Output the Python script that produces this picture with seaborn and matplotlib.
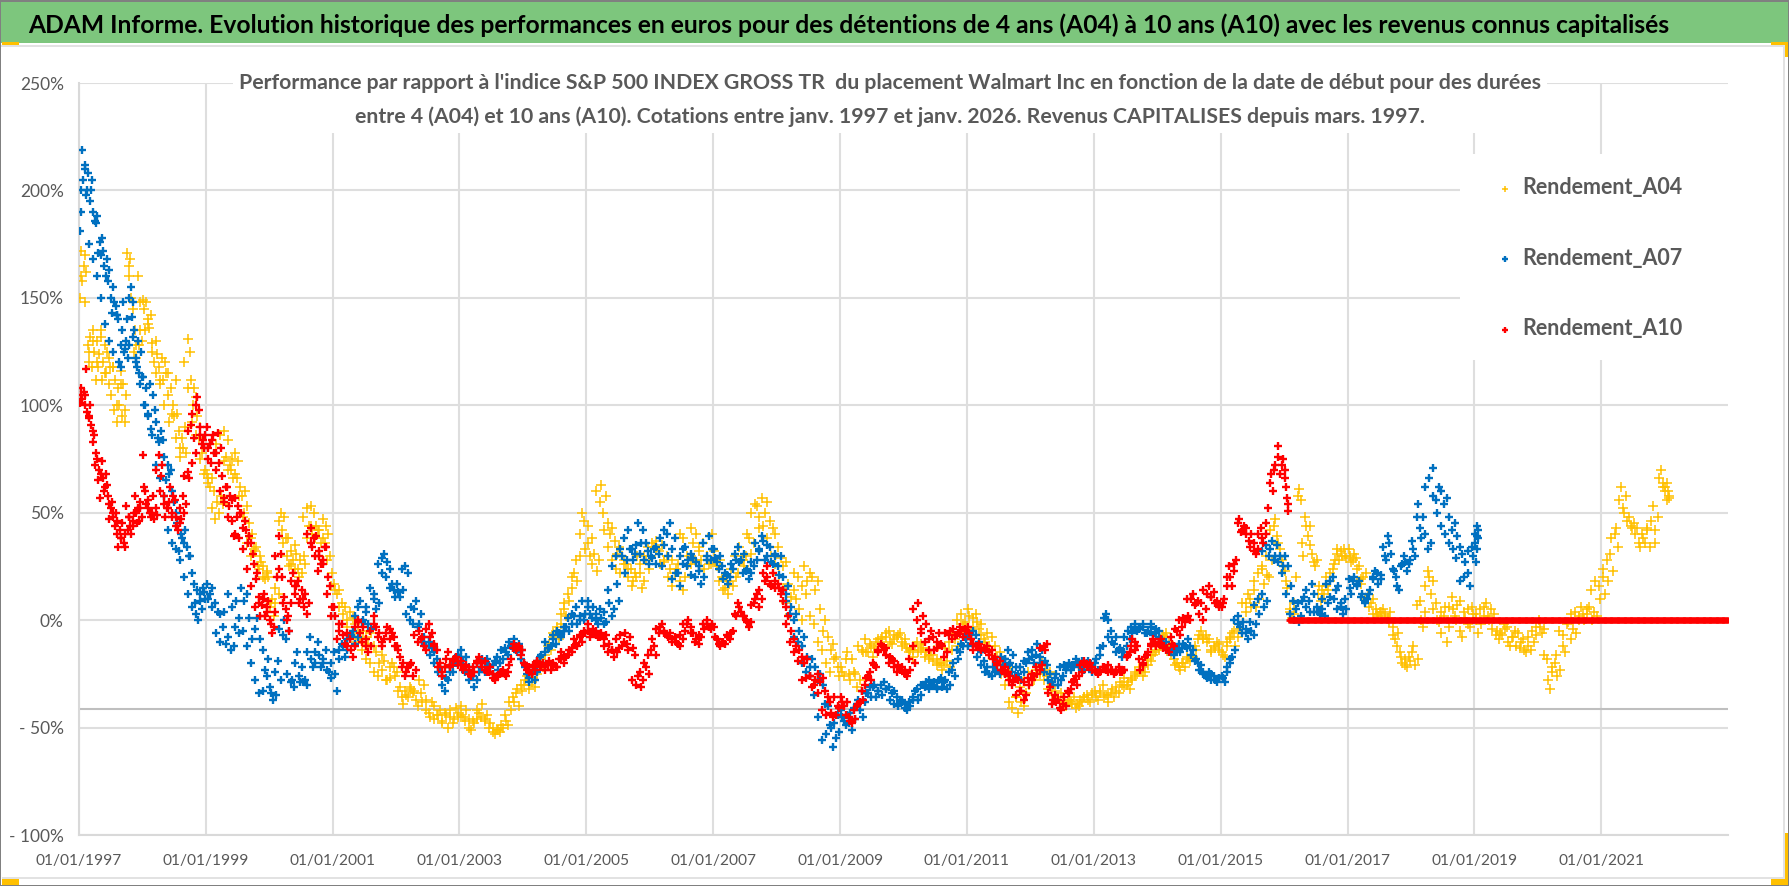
import numpy as np
import pandas as pd
import seaborn as sns
import matplotlib.pyplot as plt
import matplotlib.dates as mdates
from matplotlib.patches import Rectangle

# values in %, one list per calendar year in time order
a04_rows = [
    [150,172,158,165,148,162,128,120,132,118,135,125,112,130,118,124,132,112,120,128,115,125,110,118,
     105,118,98,112,92,108,100,116,95,110,92,105,171,160,168,150,148,125,135,122,160,128,148,130],
    [149,135,148,140,136,142,129,120,130,124,118,110,122,112,120,115,115,92,108,100,95,112,96,
     88,76,85,80,90,78,131,125,112,100,108,104,95,85,90,78,82,70],
    [68,64,62,66,60,47,55,50,58,54,88,76,84,72,70,66,78,66,74,62,58,50,60,53,45,38,40,33,34,25,30,27,25,19,22,20],
    [6,10,2,8,20,12,50,42,48,38,38,25,32,28,35,31,24,28,22,30,26,38,44,53,40,50,44,42,30,36,47,36,44,40,30,22],
    [17,12,14,8,6,0,4,1,-2,-6,-9,-5,-8,-11,-6,-12,-15,-20,-16,-19,-28,-22,-20,-26],
    [-24,-31,-39,-33,-36,-32,-34,-37,-28,-34,-30,-37,-43,-38,-40,-44,-42,-47,-43,-50,-45,-48,-41,-45],
    [-40,-45,-42,-46,-51,-48,-46,-43,-39,-46,-44,-48,-50,-53,-51,-52,-50,-47,-49,-42,-38,-34,-40,-33],
    [-30,-26,-32,-29,-31,-25,-20,-22,-16,-12,-14,-8,-5,-9,-2,5,2,9,15,22,18,30,50,33],
    [44,30,38,31,23,28,63,50,58,45,40,43,37,31,34,30,26,26,20,24,18,22,30,22,15,18,28,24],
    [30,34,37,32,35,28,30,24,28,22,26,18,14,20,26,43,36,40,32,28,24,30,26,40],
    [32,25,28,20,15,12,18,16,20,22,28,25,30,38,31,36,53,43,57,50,55,46,43,40],
    [34,29,25,27,17,11,14,10,5,0,25,18,22,20,14,18,5,-5,0,-8,-14,-11,-17,-26],
    [-22,-26,-15,-25,-18,-25,-31,-28,-15,-9,-15,-12,-17,-10,-14,-9,-12,-8,-5,-11,-7,-8,-6,-12],
    [-9,-13,-14,-17,-12,-15,-11,-13,-15,-18,-16,-14,-18,-20,-23,-21,-19,-22,-14,-9,-12,-6,-2,-4],
    [5,-5,1,3,-4,-2,-9,-6,-12,-8,-12,-17,-15,-20,-23,-26,-22,-28,-36,-43,-38,-40,-34,-30],
    [-25,-28,-22,-25,-20,-23,-26,-24,-30,-33,-36,-34,-36,-40,-37,-38,-36,-39,-40,-38,-36,-35,-38,-34],
    [-33,-37,-34,-30,-35,-38,-34,-36,-33,-34,-30,-27,-30,-32,-28,-26,-25,-23,-26,-24,-21,-19,-16,-14],
    [-14,-11,-8,-6,-10,-14,-18,-20,-23,-20,-22,-18,-19,-17,-14,-9,-5,-9,-7,-9,-15,-12,-10,-14],
    [-15,-17,-12,-8,-6,-12,-8,-4,-1,4,12,6,14,6,10,25,17,21,20,28,47,39,33,25],
    [23,15,5,1,8,20,61,56,30,48,39,44,31,25,28,16,9,12,20,14,18,24,28,33,28,30,33,29],
    [33,27,31,29,25,17,20,22,12,8,10,5,2,4,5,3,1,4,-3,-9,-6,-15,-20,-18,-22,-19],
    [-15,-21,-18,9,-3,4,23,12,18,8,-1,4,2,-10,-3,11,2,7,9,-8,1,5,-3,3],
    [3,-6,-2,2,8,0,5,3,-5,-9,-7,-4,-3,-12,-8,-5,-6,-10,-9,-15,-12,-14,-10,-7],
    [0,-6,-4,-18,-32,-22,-20,-26,-23,-12,-15,-1,-9,-4,-6,0,6,0,3,6,0,4,2,10],
    [20,12,18,31,23,43,34,62,50,58,48,43,45,43,34,40,36,43,34,53,36,48,70,62],
    [62,56,60,58],
]
# second pass over the same cloud, the readings the first pass left out
a04_more = [
    [160,170,125,130,120,135,115,122,118,100,110,98,165,145,128,135],
    [145,138,125,115,112,100,105,96,85,80,120,108,92,86,75,68],
    [66,52,82,86,74,70,75,68,58,48,36,30,32,24,20,23],
    [8,15,46,36,30,26,24,20,48,52,44,38,42,38,28,16],
    [14,6,3,-3,-7,-10,-8,-14,-18,-20,-24,-26,-23,-28,-27,-22],
    [-33,-36,-35,-31,-33,-40,-38,-42,-45,-46,-44,-48,-44,-42,-46,-43],
    [-44,-47,-50,-47,-42,-45,-47,-50,-52,-51,-49,-44,-38,-36,-32,-30],
    [-28,-30,-27,-22,-18,-15,-11,-6,-3,3,8,12,20,28,40,46],
    [36,26,60,55,42,34,28,24,22,28,24,16,20,26,30,34],
    [36,33,26,27,20,16,24,40,38,30,26,28,34,36,30,26],
    [27,18,14,18,24,30,34,28,40,50,54,48,44,38,30,26],
    [21,15,8,3,22,20,16,12,2,-2,-10,-14,-20,-24,-18,-22],
    [-24,-18,-28,-24,-12,-14,-15,-11,-13,-9,-8,-6,-10,-9,-7,-10],
    [-11,-15,-14,-10,-14,-17,-16,-19,-21,-20,-13,-10,-6,0,3,-1],
    [2,-3,-1,-7,-10,-14,-18,-20,-25,-30,-38,-41,-36,-31,-27,-24],
    [-27,-23,-24,-28,-32,-35,-37,-38,-39,-37,-39,-41,-37,-36,-37,-35],
    [-36,-33,-36,-35,-32,-31,-29,-31,-29,-27,-24,-22,-22,-18,-16,-15],
    [-10,-7,-12,-16,-21,-22,-20,-17,-16,-12,-7,-8,-10,-14,-13,-11],
    [-16,-10,-9,-5,-2,8,8,10,18,22,24,30,42,44,36,28],
    [18,4,3,58,36,44,35,27,12,14,16,22,26,31,32,30],
    [30,28,24,19,10,6,3,3,4,2,-1,-7,-12,-17,-21,-17],
    [-12,7,0,16,20,5,0,-6,6,6,5,0,-5,4,-2,6],
    [0,5,6,2,-4,-7,-6,-2,-10,-8,-12,-13,-14,-8,-5,-3],
    [-3,-16,-28,-24,-16,-5,-7,-2,3,4,2,3,5,14,18,16],
    [24,28,38,40,56,52,46,44,40,36,38,42,46,42,66,64],
    [60,64,57],
]
a04_last_year_share = 0.08

a07_rows = [
    [181,190,219,205,212,198,200,208,195,200,205,190,186,185,188,171,176,170,178,172,165,160,168,158,163,150,143,
     155,148,146,142,140,120,128,135,148,125,130,140,122,128,155,141,148,135,120,118,130,115,125,113],
    [113,100,108,95,110,89,105,98,92,85,83,88,84,76,65,72,68,70,60,55,50,45,32,40,38,36,42,34,30,30,22,17,8,14,0,12,5,15,10],
    [17,12,15,8,4,3,-3,-11,-8,-14,-12,9,1,15,9,12,1,-9,-4,1,-9,-14,-23,-18],
    [-31,-37,-35,-19,-28,0,-9,-5,-28,-31,-15,-29,-22,-28,-30,-8,-22,-15,-10,-22,-18,-14,-24,-20],
    [-15,-33,-18,-11,-17,-14,-8,-5,-11,-8,9,0,4,-2,-4,12,5,8,22,31,27,24,17,11],
    [17,11,14,25,22,6,-2,9,-2,3,-8,-12,-10,-13,-15,-18,-22,-26,-33,-28,-22,-24,-20,-17],
    [-14,-19,-17,-22,-26,-31,-28,-24,-18,-20,-18,-22,-25,-19,-23,-20,-18,-15,-16,-12,-9,-12,-11,-14],
    [-20,-25,-29,-25,-28,-24,-17,-20,-15,-13,-12,-9,-11,-6,-8,-5,-3,-5,-2,2,-2,0,9,3],
    [9,3,6,3,-2,1,-2,-1,8,2,5,17,9,30,22,28,33,28,31,45,36,42,36,26],
    [30,33,26,31,25,35,40,45,33,38,22,16,26,34,28,31,29,27,23,17,20,28,39,33],
    [33,27,30,25,22,17,20,24,28,34,28,31,23,19,22,25,28,32,39,28,35,34,26,30],
    [25,30,20,12,16,6,0,3,-5,-12,-8,-17,-22,-18,-22,-28,-25,-30,-39,-40,-50,-59,-55,-52],
    [-42,-47,-44,-48,-51,-46,-39,-42,-45,-38,-34,-36,-31,-36,-33,-30,-29,-32,-31,-34,-33,-36,-38,-37],
    [-39,-42,-40,-37,-33,-37,-35,-30,-29,-32,-30,-29,-32,-28,-31,-29,-32,-30,-23,-26,-18,-15,-12,-9],
    [-12,-9,-5,-7,-10,-15,-19,-22,-25,-26,-24,-23,-25,-21,-18,-14,-20,-16,-22,-25,-28,-24,-20,-18],
    [-17,-20,-11,-17,-14,-19,-21,-25,-30,-27,-30,-28,-26,-23,-20,-23,-21,-20,-22,-19,-23,-20,-21,-24],
    [-20,-23,-16,-12,3,0,-5,-11,-8,-14,-17,-15,-12,-9,-6,-2,-5,-3,-2,-6,-5,-2,-7,-4],
    [-5,-9,-12,-10,-15,-13,-16,-14,-15,-13,-12,-9,-12,-14,-18,-20,-21,-24,-26,-24,-28,-26,-29,-27],
    [-26,-29,-24,-20,-17,-14,2,-3,-1,-4,-9,-5,-7,-2,3,12,6,9,30,37,30,35,30,25],
    [30,25,16,9,5,-1,2,11,6,9,17,12,6,3,5,2,8,11,20,14,16,8,3,5],
    [19,12,20,16,18,12,8,10,14,20,23,17,21,34,28,39,31,23,20,14,26,30,23,28],
    [37,30,54,43,48,40,33,36,71,56,62,60,54,57,48,42,45,39,34,31,27,22,16,30],
    [36,27,44,39,42],
]
a07_more = [
    [200,210,175,168,160,150,138,130,125,142,118,126,150,132,122,110],
    [100,96,86,72,66,58,42,36,33,28,20,12,6,3,9,13],
    [10,6,-6,-10,4,12,6,-3,-6,-5,-12,-20,-28,-34,-33,-26],
    [-34,-24,-4,-7,-25,-29,-20,-26,-29,-15,-18,-20,-16,-20,-23,-27],
    [-25,-14,-12,-9,-7,2,6,-1,6,15,10,26,29,20,15,14],
    [13,24,3,0,5,-3,-10,-12,-16,-20,-24,-30,-27,-24,-20,-16],
    [-17,-24,-28,-26,-20,-22,-24,-21,-21,-17,-14,-13,-10,-13,-15,-18],
    [-22,-27,-23,-19,-16,-10,-13,-7,-5,-7,-3,1,3,6,2,0],
    [6,1,0,5,4,14,25,30,33,38,42,33,35,31,28,32],
    [29,34,38,42,30,19,22,30,33,25,21,20,25,36,30,28],
    [29,24,19,21,26,31,27,22,24,27,36,33,37,30,27,31],
    [21,14,9,3,-8,-10,-20,-24,-26,-35,-45,-56,-53,-49,-48,-44],
    [-45,-49,-43,-41,-37,-33,-34,-31,-30,-33,-35,-32,-37,-39,-40,-38],
    [-41,-38,-36,-32,-30,-31,-28,-30,-31,-27,-28,-24,-20,-14,-11,-8],
    [-7,-11,-17,-21,-24,-25,-22,-19,-17,-18,-21,-24,-26,-22,-19,-15],
    [-14,-16,-20,-24,-28,-29,-25,-22,-21,-22,-21,-18,-21,-22,-19,-22],
    [-18,-13,1,-8,-10,-15,-13,-8,-5,-3,-4,-4,-3,-6,-3,-6],
    [-8,-11,-14,-14,-14,-11,-11,-13,-16,-19,-23,-25,-27,-25,-28,-27],
    [-27,-22,-18,0,-2,-6,-6,-1,7,10,32,35,33,28,27,22],
    [12,3,0,8,9,14,4,4,4,10,17,18,10,5,6,10],
    [15,18,17,11,9,12,19,22,19,30,36,24,16,25,27,26],
    [33,48,38,62,66,58,50,44,40,36,33,29,18,20,32,34],
    [40,33,38],
]
a07_last_year_share = 0.07

a10_rows = [
    [101,108,103,106,105,117,97,94,100,91,83,86,72,78,65,70,57,74,66,60,68,63,58,47,52,55,48,44,50,40,
     34,42,38,45,36,34,53,42,48,44,40,46,50,58,45,52,46,55,48],
    [77,60,54,56,50,48,58,47,52,49,77,67,72,58,48,52,55,62,50,58,56,48,42,45,47,58,50,54,69,66,91,73,85,78,104,98,90,82,84,86],
    [90,75,82,73,86,78,70,87,73,80,67,57,62,62,53,58,56,39,57,48,53,50,50,43,46,42,36,39,36,31,26,19,22,11,2,7,12,2,6,9],
    [0,-6,-3,4,20,39,31,20,11,5,2,-5,8,22,12,16,18,10,14,6,12,3,8,43,34,38,39,23,30,26,28,34,34,20,16,6],
    [6,-9,-2,-2,-11,-6,-9,-17,-12,0,-6,-3,-9,-15,-12,2,-3,-6,-12,-9,-3,-9,-6,-12],
    [-12,-17,-20,-26,-22,-20,-26,-23,-5,-9,-12,-14,-2,-6,-11,-14,-20,-26,-22,-15,-22,-19,-17,-19],
    [-19,-23,-21,-23,-26,-24,-20,-17,-22,-19,-24,-22,-25,-28,-26,-25,-23,-26,-24,-18,-11,-14,-12,-14],
    [-20,-23,-22,-25,-23,-19,-22,-20,-23,-21,-23,-20,-22,-18,-15,-20,-17,-14,-15,-9,-12,-8,-10,-6],
    [-2,-8,-4,-5,-8,-6,-9,-7,-11,-14,-17,-15,-13,-12,-6,-11,-8,-13,-16,-26,-31,-28,-22,-25],
    [-14,-12,-16,-6,-2,-5,-7,-6,-9,-8,-11,-12,-9,-5,0,-3,-6,-9,-11,-8,-4,0,-3,-2],
    [-3,-9,-12,-10,-11,-8,-9,-5,2,8,4,2,0,-3,-1,8,12,6,10,18,25,17,22,15],
    [17,12,14,6,2,-5,-9,-12,-14,-17,-20,-18,-26,-31,-28,-25,-29,-27,-33,-36,-43,-45,-44,-41],
    [-36,-40,-38,-45,-48,-46,-40,-38,-37,-30,-26,-28,-20,-22,-14,-11,-14,-16,-20,-18,-22,-24,-23,-22],
    [-24,-26,-23,-12,-20,8,-6,2,-2,-9,-5,-14,-10,-6,-12,-17,-15,-5,-9,-7,-6,-3,-8,-5],
    [-3,-9,-14,-12,-11,-14,-13,-12,-15,-14,-17,-20,-19,-23,-22,-24,-26,-29,-27,-28,-33,-37,-35,-30],
    [-28,-26,-25,-23,-21,-14,-11,-31,-37,-35,-37,-42,-39,-40,-34,-32,-28,-30,-26,-24,-19,-22,-20,-23],
    [-23,-25,-24,-22,-23,-21,-23,-25,-24,-22,-24,-23,-17,-15,-9,-14,-12,-23,-20,-17,-15,-11,-9,-12],
    [-10,-9,-12,-14,-15,-11,-12,-5,-7,-3,-1,2,0,12,8,9,8,0,5,16,11,13,9,6],
    [6,10,16,25,16,23,28,47,41,44,43,37,40,36,31,33,43,36,40,52,68,60,72,81,68,75],
    [70,62,57,51],
]
a10_more = [
    [105,100,95,88,75,68,62,54,50,46,38,40,48,44,50,52],
    [62,52,50,70,60,54,52,48,44,52,67,88,96,100,86,80],
    [80,84,78,60,55,48,46,40,38,33,24,16,6,8,10,4],
    [-2,30,24,8,0,18,16,8,10,40,36,30,32,26,12,2],
    [2,-5,-7,-12,-14,-3,-1,-10,-12,-5,-2,-8,-10,-6,-4,-8],
    [-14,-22,-24,-21,-7,-10,-8,-4,-8,-12,-22,-24,-18,-21,-18,-21],
    [-21,-22,-25,-22,-19,-20,-23,-24,-27,-26,-24,-25,-21,-13,-13,-16],
    [-21,-24,-21,-20,-21,-22,-19,-21,-22,-18,-16,-16,-13,-11,-7,-5],
    [-5,-6,-7,-8,-12,-15,-14,-9,-7,-10,-14,-28,-30,-24,-20,-16],
    [-9,-4,-3,-6,-8,-10,-10,-7,-2,-2,-6,-10,-7,-2,-2,-4],
    [-8,-11,-10,-7,-6,3,6,2,-1,7,10,14,22,20,16,18],
    [15,9,-2,-10,-15,-19,-28,-27,-26,-30,-34,-42,-44,-38,-36,-40],
    [-38,-44,-47,-42,-39,-33,-27,-24,-21,-15,-12,-13,-17,-19,-21,-23],
    [-25,-18,5,0,-4,-10,-14,-8,-13,-11,-6,-7,-4,-7,-5,-4],
    [-6,-11,-12,-13,-14,-16,-18,-21,-23,-25,-28,-30,-35,-33,-29,-27],
    [-25,-22,-13,-12,-34,-39,-38,-41,-36,-33,-29,-26,-21,-20,-21,-22],
    [-24,-23,-22,-24,-23,-23,-24,-23,-16,-12,-10,-18,-21,-16,-12,-10],
    [-11,-13,-13,-8,-4,0,1,10,10,7,3,14,12,11,8,7],
    [8,20,20,26,45,42,40,34,32,40,38,45,64,70,76,72],
    [66,54],
]
a10_last_year_share = 0.08

# the 10 year return stays flat at zero from early 2016 to the end of the axis
a10_flat_start = '2016-02-01'
a10_flat_end = '2023-01-01'
a10_flat_value = 0.0

hline_value = -41.5
y_ticks = [250, 200, 150, 100, 50, 0, -50, -100]
y_labels = ['250%', '200%', '150%', '100%', '50%', '0%', '- 50%', '- 100%']
tick_years = list(range(1997, 2022, 2))

title = ('ADAM Informe. Evolution historique des performances en euros pour des détentions '
         'de 4 ans (A04) à 10 ans (A10) avec les revenus connus capitalisés')
subtitle = ("Performance par rapport à l'indice S&P 500 INDEX GROSS TR  du placement Walmart Inc "
            "en fonction de la date de début pour des durées\n"
            "entre 4 (A04) et 10 ans (A10). Cotations entre janv. 1997 et janv. 2026. "
            "Revenus CAPITALISES depuis mars. 1997.")


def rows_to_frame(rows, last_share):
    dates, values = [], []
    for k, row in enumerate(rows):
        start = pd.Timestamp(1997 + k, 1, 1)
        share = last_share if k == len(rows) - 1 else 1.0
        for i, v in enumerate(row):
            dates.append(start + pd.Timedelta(days=365.25 * share * (i + 0.5) / len(row)))
            values.append(v)
    return pd.DataFrame({'date': dates, 'value': values})


def band(fig, x0, y0, x1, y1, color, zorder=5):
    # rectangle given in image pixels, top-left origin
    fig.add_artist(Rectangle((x0 / 1790, 1 - y1 / 886), (x1 - x0) / 1790, (y1 - y0) / 886,
                             transform=fig.transFigure, facecolor=color,
                             edgecolor='none', zorder=zorder))


def fit_width(fig, text, target):
    # the reference font is narrower than anything installed, so scale to its width
    width = text.get_window_extent(fig.canvas.get_renderer()).width
    text.set_fontsize(text.get_fontsize() * target / width)


sns.set_theme(style='white')
plt.rcParams['font.family'] = ['Lato', 'DejaVu Sans']

df04 = pd.concat([rows_to_frame(a04_rows, a04_last_year_share), rows_to_frame(a04_more, a04_last_year_share)])
df07 = pd.concat([rows_to_frame(a07_rows, a07_last_year_share), rows_to_frame(a07_more, a07_last_year_share)])
df10 = pd.concat([rows_to_frame(a10_rows, a10_last_year_share), rows_to_frame(a10_more, a10_last_year_share)])
flat_dates = pd.date_range(a10_flat_start, a10_flat_end, freq='5D')
df_flat = pd.DataFrame({'date': flat_dates, 'value': [a10_flat_value] * len(flat_dates)})

fig = plt.figure(figsize=(17.9, 8.86), dpi=100, facecolor='white')
ax = fig.add_axes([79 / 1790, 1 - 835 / 886, (1728 - 79) / 1790, (835 - 83) / 886])

sns.scatterplot(data=df04, x='date', y='value', marker='+', s=46, linewidth=1.1,
                color='#FFC000', ax=ax, label='Rendement_A04', zorder=3)
sns.scatterplot(data=df07, x='date', y='value', marker='+', s=38, linewidth=1.7,
                color='#0070C0', ax=ax, label='Rendement_A07', zorder=3.1)
sns.scatterplot(data=df10, x='date', y='value', marker='+', s=38, linewidth=1.7,
                color='#FF0000', ax=ax, label='Rendement_A10', zorder=3.2)
sns.scatterplot(data=df_flat, x='date', y='value', marker='+', s=24, linewidth=1.9,
                color='#FF0000', ax=ax, zorder=3.2)

ax.set_xlim(pd.Timestamp('1997-01-01'), pd.Timestamp('2023-01-01'))
ax.set_ylim(-100, 250)
ax.set_xlabel('')
ax.set_ylabel('')
ax.set_yticks(y_ticks)
ax.set_yticklabels(y_labels)
ax.set_xticks([pd.Timestamp(y, 1, 1) for y in tick_years])
ax.xaxis.set_major_formatter(mdates.DateFormatter('%d/%m/%Y'))
ax.tick_params(length=0, labelsize=12.5, labelcolor='#595959', pad=11)
ax.tick_params(axis='x', pad=14, labelsize=11.2)
ax.grid(True, color='#DEDEDE', linewidth=1.5)
ax.set_axisbelow(True)
ax.axhline(hline_value, color='#BFBFBF', linewidth=1.5, zorder=1)
sns.despine(ax=ax, top=True, right=True)
for side in ['left', 'bottom']:
    ax.spines[side].set_color('#D9D9D9')
    ax.spines[side].set_linewidth(1.5)

# white panel behind the legend hides the grid there, as in the reference
ax.add_patch(Rectangle(((1460 - 79) / 1649, (835 - 360) / 752), (1728 - 1460) / 1649, (360 - 154) / 752,
                       transform=ax.transAxes, facecolor='white', edgecolor='none', zorder=2))
leg = ax.legend(loc='upper left', bbox_to_anchor=((1458 - 79) / 1649, (835 - 145) / 752),
                bbox_transform=ax.transAxes, frameon=False,
                prop={'size': 15.5, 'weight': 'bold'}, labelspacing=2.3, borderpad=1.5,
                borderaxespad=0, handletextpad=0.1, handlelength=1.4, markerscale=0.7)
for t in leg.get_texts():
    t.set_color('#595959')

# header, frame and corner accents
band(fig, 0, 0, 1790, 43, '#7DC67D', zorder=1)
band(fig, 0, 45, 1790, 47, '#E2E2E2', zorder=1)
band(fig, 2, 877, 1790, 879, '#E2E2E2', zorder=1)
band(fig, 1783, 45, 1785, 879, '#E2E2E2', zorder=1)
band(fig, 2, 42, 19, 45, '#FFC000')
band(fig, 1771, 42, 1788, 45, '#FFC000')
band(fig, 1785, 42, 1788, 57, '#FFC000')
band(fig, 2, 879, 19, 885, '#FFC000')
band(fig, 1771, 879, 1788, 885, '#FFC000')
band(fig, 1785, 833, 1788, 885, '#FFC000')
band(fig, 0, 0, 1790, 1.5, '#808080')
band(fig, 0, 884.5, 1790, 886, '#808080')
band(fig, 0, 0, 1.5, 886, '#808080')
band(fig, 1788.5, 0, 1790, 886, '#808080')

title_text = fig.text(28 / 1790, 1 - 25 / 886, title, ha='left', va='center', fontsize=20,
                      fontweight='bold', color='black', zorder=7)
fit_width(fig, title_text, 1642)
sub_text = fig.text(890 / 1790, 1 - 100 / 886, subtitle, ha='center', va='center', fontsize=14,
                    fontweight='bold', color='#595959', linespacing=1.85, zorder=7,
                    bbox=dict(facecolor='white', edgecolor='none', pad=4))
fit_width(fig, sub_text, 1311)

fig.savefig('out.png', dpi=100)
plt.close(fig)
